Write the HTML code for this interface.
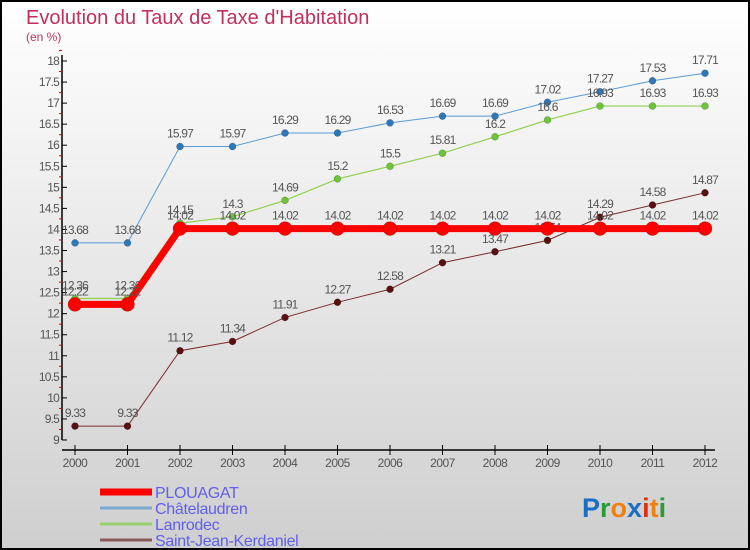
<!DOCTYPE html>
<html><head><meta charset="utf-8"><style>
body{margin:0;}
#c{width:750px;height:550px;position:relative;overflow:hidden;font-family:"Liberation Sans",sans-serif;}
</style></head><body>
<div id="c">
<svg id="s" width="750" height="550" xmlns="http://www.w3.org/2000/svg">
<defs><linearGradient id="bg" x1="0" y1="0" x2="0" y2="1"><stop offset="0" stop-color="#ffffff"/><stop offset="1" stop-color="#cfcfcf"/></linearGradient></defs>
<rect x="1" y="1" width="748" height="548" fill="url(#bg)" stroke="#000" stroke-width="2"/>
<text x="26" y="24" font-size="20" fill="#c0305a">Evolution du Taux de Taxe d'Habitation</text>
<text x="26" y="41" font-size="12" fill="#c0305a">(en %)</text>
<g id="axes"></g><g id="series"></g><g id="legend"></g>
<text x="582" y="517" font-size="27" font-weight="bold"><tspan fill="#1a6fc4">P</tspan><tspan fill="#2a9a3a">r</tspan><tspan fill="#f08010">o</tspan><tspan fill="#1a6fc4">x</tspan><tspan fill="#e03010">i</tspan><tspan fill="#f08010">t</tspan><tspan fill="#2a9a3a">i</tspan></text>
</svg></div>
<script>
const years=[2000,2001,2002,2003,2004,2005,2006,2007,2008,2009,2010,2011,2012];
const plouagat=[12.22,12.22,14.02,14.02,14.02,14.02,14.02,14.02,14.02,14.02,14.02,14.02,14.02];
const chatelaudren=[13.68,13.68,15.97,15.97,16.29,16.29,16.53,16.69,16.69,17.02,17.27,17.53,17.71];
const lanrodec=[12.36,12.36,14.15,14.3,14.69,15.2,15.5,15.81,16.2,16.6,16.93,16.93,16.93];
const sjk=[9.33,9.33,11.12,11.34,11.91,12.27,12.58,13.21,13.47,13.74,14.29,14.58,14.87];
const yTicks=[9,9.5,10,10.5,11,11.5,12,12.5,13,13.5,14,14.5,15,15.5,16,16.5,17,17.5,18];
const yMin=9,yMax=18;
const NS="http://www.w3.org/2000/svg";
function X(i){return 75+i*52.5;}
function Y(v){return 440-(v-yMin)*(379/(yMax-yMin));}
function mk(tag,attrs,parent){const e=document.createElementNS(NS,tag);for(const k in attrs)e.setAttribute(k,attrs[k]);parent.appendChild(e);return e;}
const ax=document.getElementById('axes');
let yl=mk('line',{x1:62,y1:55,x2:62,y2:440,stroke:'#000','stroke-width':1.5},ax);


yTicks.forEach(t=>{
 mk('line',{x1:62,y1:Y(t),x2:67,y2:Y(t),stroke:'#000'},ax);
 mk('line',{x1:59,y1:Y(t+0.25),x2:62,y2:Y(t+0.25),stroke:'#e00000'},ax);
 const tx=mk('text',{x:59,y:Y(t)+4,'font-size':12,fill:'#555','text-anchor':'end','letter-spacing':'-0.8'},ax);
 tx.textContent=String(t);
 
 
});
let xl=mk('line',{x1:62,y1:450,x2:715,y2:450,stroke:'#000','stroke-width':1.5},ax);


years.forEach((y,i)=>{
 mk('line',{x1:X(i),y1:445,x2:X(i),y2:455,stroke:'#000'},ax);
 const tx=mk('text',{x:X(i),y:467,'font-size':12,fill:'#555','text-anchor':'middle','letter-spacing':'-0.5'},ax);
 tx.textContent=y;
 
 
});
const sg=document.getElementById('series');
function draw(vals,name,color,lw,r,dot){
 const g=mk('g',{},sg);
 
 
 mk('polyline',{points:vals.map((v,i)=>X(i)+','+Y(v)).join(' '),fill:'none',stroke:color,'stroke-width':lw},g);
 vals.forEach((v,i)=>{
  const c=mk('circle',{cx:X(i),cy:Y(v),r:r,fill:dot,stroke:'rgba(0,0,0,0.3)','stroke-width':0.5},g);
  
  
  const t=mk('text',{x:X(i),y:Y(v)-9,'font-size':12,fill:'#555','text-anchor':'middle','letter-spacing':'-0.8'},g);
  t.textContent=String(v);
  
  
 });
}
draw(chatelaudren,'chatelaudren','#5b9bd5',1,3.5,'#2e78b8');
draw(sjk,'saint-jean-kerdaniel','#7a2a2a',1,3.5,'#5a1010');
draw(lanrodec,'lanrodec','#8fd14f',1.2,3.5,'#6cc43a');
draw(plouagat,'plouagat','#ff0000',7,7,'#ff0000');
const lg=document.getElementById('legend');
const items=[['PLOUAGAT','#ff0000',7],['Châtelaudren','#7aaad0',3],['Lanrodec','#9ad070',3],['Saint-Jean-Kerdaniel','#8a5a5a',3]];
items.forEach((it,k)=>{
 const y=492+k*16;
 const g=mk('g',{},lg);
 
 
 mk('line',{x1:100,y1:y,x2:152,y2:y,stroke:it[1],'stroke-width':it[2]},g);
 const t=mk('text',{x:155,y:y+6,'font-size':16,fill:'#6060ee','letter-spacing':'-0.3'},g);
 t.textContent=it[0];
});
</script>
</body></html>
